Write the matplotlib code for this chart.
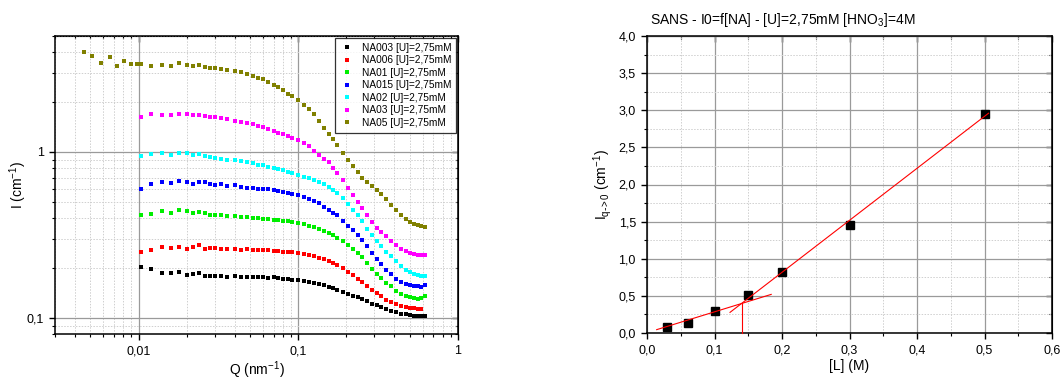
import numpy as np
import matplotlib
matplotlib.use("Agg")
import matplotlib.pyplot as plt
from matplotlib.ticker import FuncFormatter, LogLocator, MultipleLocator, NullFormatter

plt.rcParams['font.family'] = ['Liberation Sans', 'DejaVu Sans']

# ---------------- Left panel data ----------------
q = [0.0104, 0.012, 0.014, 0.016, 0.018, 0.020, 0.022, 0.024, 0.026, 0.028,
     0.030, 0.033, 0.036, 0.040, 0.044, 0.048, 0.052, 0.056, 0.060, 0.065,
     0.070, 0.075, 0.080, 0.086, 0.092, 0.100, 0.108, 0.116, 0.125, 0.135,
     0.145, 0.155, 0.165, 0.175, 0.19, 0.205, 0.22, 0.235, 0.25, 0.27,
     0.29, 0.31, 0.33, 0.355, 0.38, 0.41, 0.44, 0.47, 0.50, 0.53,
     0.56, 0.59, 0.62]

q_na05_low = [0.00455, 0.00514, 0.00585, 0.00659, 0.00732, 0.00809, 0.00891, 0.00982]
i_na05_low = [4.02, 3.80, 3.45, 3.72, 3.30, 3.55, 3.38, 3.39]

na003 = [0.204, 0.196, 0.186, 0.187, 0.19, 0.182, 0.183, 0.186, 0.18, 0.178,
         0.178, 0.179, 0.177, 0.178, 0.176, 0.176, 0.177, 0.176, 0.176, 0.175,
         0.176, 0.174, 0.172, 0.171, 0.17, 0.169, 0.167, 0.165, 0.163, 0.16,
         0.157, 0.154, 0.151, 0.148, 0.144, 0.14, 0.136, 0.133, 0.13, 0.126,
         0.122, 0.119, 0.116, 0.113, 0.11, 0.108, 0.106, 0.105, 0.104, 0.103,
         0.103, 0.102, 0.102]
na006 = [0.249, 0.258, 0.266, 0.265, 0.268, 0.262, 0.268, 0.276, 0.262, 0.264,
         0.263, 0.262, 0.26, 0.259, 0.258, 0.259, 0.258, 0.257, 0.256, 0.255,
         0.254, 0.252, 0.25, 0.249, 0.248, 0.245, 0.242, 0.238, 0.235, 0.23,
         0.225, 0.22, 0.214, 0.208, 0.199, 0.19, 0.181, 0.172, 0.165, 0.156,
         0.148, 0.141, 0.135, 0.129, 0.125, 0.121, 0.118, 0.116, 0.115, 0.114,
         0.113, 0.113, np.nan]
na01 = [0.42, 0.425, 0.44, 0.43, 0.445, 0.44, 0.43, 0.435, 0.43, 0.42,
        0.415, 0.42, 0.41, 0.41, 0.405, 0.405, 0.40, 0.40, 0.395, 0.395,
        0.39, 0.39, 0.385, 0.385, 0.38, 0.375, 0.37, 0.36, 0.355, 0.345,
        0.335, 0.325, 0.315, 0.305, 0.29, 0.275, 0.26, 0.245, 0.232, 0.215,
        0.198, 0.185, 0.174, 0.163, 0.155, 0.146, 0.14, 0.136, 0.133, 0.131,
        0.13, 0.131, 0.135]
na015 = [0.60, 0.64, 0.655, 0.65, 0.665, 0.66, 0.645, 0.66, 0.655, 0.64,
         0.635, 0.64, 0.625, 0.63, 0.615, 0.61, 0.605, 0.60, 0.595, 0.595,
         0.59, 0.58, 0.575, 0.565, 0.555, 0.55, 0.535, 0.52, 0.51, 0.49,
         0.465, 0.45, 0.43, 0.415, 0.385, 0.36, 0.34, 0.315, 0.295, 0.27,
         0.245, 0.225, 0.21, 0.195, 0.183, 0.172, 0.165, 0.16, 0.157, 0.155,
         0.155, 0.154, 0.157]
na02 = [0.95, 0.97, 0.99, 0.96, 0.98, 0.99, 0.96, 0.97, 0.94, 0.93,
        0.92, 0.91, 0.90, 0.89, 0.88, 0.87, 0.855, 0.84, 0.83, 0.81,
        0.80, 0.79, 0.78, 0.76, 0.745, 0.73, 0.71, 0.695, 0.68, 0.66,
        0.64, 0.615, 0.59, 0.565, 0.525, 0.485, 0.45, 0.415, 0.385, 0.345,
        0.315, 0.29, 0.27, 0.25, 0.235, 0.22, 0.205, 0.195, 0.188, 0.184,
        0.182, 0.180, 0.178]
na03 = [1.63, 1.69, 1.68, 1.66, 1.70, 1.69, 1.67, 1.68, 1.65, 1.63,
        1.62, 1.60, 1.58, 1.54, 1.52, 1.49, 1.47, 1.44, 1.42, 1.38,
        1.34, 1.31, 1.28, 1.25, 1.21, 1.18, 1.13, 1.08, 1.02, 0.96,
        0.91, 0.87, 0.80, 0.75, 0.68, 0.61, 0.55, 0.50, 0.46, 0.42,
        0.38, 0.35, 0.33, 0.31, 0.29, 0.275, 0.262, 0.252, 0.245, 0.242,
        0.240, 0.238, 0.24]
na05 = [3.38, 3.30, 3.35, 3.32, 3.42, 3.36, 3.30, 3.33, 3.25, 3.22,
        3.19, 3.17, 3.12, 3.08, 3.02, 2.95, 2.88, 2.80, 2.76, 2.64,
        2.53, 2.45, 2.35, 2.25, 2.16, 2.05, 1.93, 1.82, 1.70, 1.54,
        1.40, 1.29, 1.19, 1.10, 0.99, 0.90, 0.82, 0.755, 0.70, 0.655,
        0.62, 0.59, 0.56, 0.52, 0.48, 0.445, 0.415, 0.395, 0.38, 0.37,
        0.362, 0.357, 0.352]

series_labels = ["NA003 [U]=2,75mM", "NA006 [U]=2,75mM", "NA01 [U]=2,75mM",
                 "NA015 [U]=2,75mM", "NA02 [U]=2,75mM", "NA03 [U]=2,75mM",
                 "NA05 [U]=2,75mM"]
series_colors = ["#000000", "#FF0000", "#00EE00", "#0000FF", "#00FFFF",
                 "#FF00FF", "#808000"]

# ---------------- Right panel data ----------------
conc_L = [0.03, 0.06, 0.10, 0.15, 0.20, 0.30, 0.50]
i_q0 = [0.08, 0.14, 0.29, 0.51, 0.82, 1.46, 2.95]
fit1_x = [0.0143, 0.184]
fit1_y = [0.045, 0.52]
fit2_x = [0.123, 0.506]
fit2_y = [0.278, 2.96]
vline_x = [0.140, 0.140]
vline_y = [0.0, 0.40]

W, H = 1062, 383
fig = plt.figure(figsize=(W / 100, H / 100), dpi=100)

comma = FuncFormatter(lambda v, p: ("%g" % v).replace(".", ","))
comma1 = FuncFormatter(lambda v, p: ("%.1f" % v).replace(".", ","))

major_grid = dict(color="#9a9a9a", linewidth=0.9, linestyle="-")
minor_grid = dict(color="#cfcfcf", linewidth=0.7, linestyle=(0, (1.5, 1.5)))

def style_axes(ax):
    for s in ax.spines.values():
        s.set_linewidth(1.1)
    ax.tick_params(which="major", direction="out", length=4.5, width=1, labelsize=9,
                   top=False, right=False)
    ax.tick_params(which="minor", direction="out", length=2.5, width=0.8,
                   top=False, right=False)

# Left
ax1 = fig.add_axes([55 / W, 1 - 334 / H, 403 / W, 298 / H])
ax1.set_xscale("log")
ax1.set_yscale("log")
ax1.set_xlim(0.003, 1)
ax1.set_ylim(0.08, 5)
ax1.xaxis.set_major_locator(LogLocator(base=10, numticks=10))
ax1.yaxis.set_major_locator(LogLocator(base=10, numticks=10))
ax1.xaxis.set_minor_locator(LogLocator(base=10, subs=np.arange(2, 10), numticks=20))
ax1.yaxis.set_minor_locator(LogLocator(base=10, subs=np.arange(2, 10), numticks=20))
ax1.xaxis.set_major_formatter(comma)
ax1.yaxis.set_major_formatter(comma)
ax1.xaxis.set_minor_formatter(NullFormatter())
ax1.yaxis.set_minor_formatter(NullFormatter())
ax1.grid(True, which="major", **major_grid)
ax1.grid(True, which="minor", **minor_grid)
ax1.set_axisbelow(True)
style_axes(ax1)

all_series = [na003, na006, na01, na015, na02, na03, na05]
for i, (vals, lab, col) in enumerate(zip(all_series, series_labels, series_colors)):
    qq = list(q)
    vv = list(vals)
    if i == 6:
        qq = q_na05_low + qq
        vv = i_na05_low + vv
    ax1.plot(qq, vv, linestyle="none", marker="s", markersize=2.8,
             markeredgewidth=0, color=col, label=lab)

ax1.set_xlabel("Q (nm$^{\\mathregular{-1}}$)", fontsize=10, labelpad=2)
ax1.set_ylabel("I (cm$^{\\mathregular{-1}}$)", fontsize=10, labelpad=-2)
leg = ax1.legend(loc="upper right", fontsize=7.3, frameon=True, fancybox=False,
                 borderaxespad=0.15, handlelength=1.2, handletextpad=0.9,
                 labelspacing=0.25, markerscale=1.0, borderpad=0.5)
leg.get_frame().set_edgecolor("black")
leg.get_frame().set_linewidth(0.9)

# Right
ax2 = fig.add_axes([647 / W, 1 - 333 / H, 405 / W, 297 / H])
ax2.set_xlim(0, 0.6)
ax2.set_ylim(0, 4)
ax2.xaxis.set_major_locator(MultipleLocator(0.1))
ax2.xaxis.set_minor_locator(MultipleLocator(0.05))
ax2.yaxis.set_major_locator(MultipleLocator(0.5))
ax2.yaxis.set_minor_locator(MultipleLocator(0.25))
ax2.xaxis.set_major_formatter(comma1)
ax2.yaxis.set_major_formatter(comma1)
ax2.grid(True, which="major", **major_grid)
ax2.grid(True, which="minor", **minor_grid)
ax2.set_axisbelow(True)
style_axes(ax2)

ax2.plot(conc_L, i_q0, linestyle="none", marker="s", markersize=5.5,
         color="black", zorder=3)
ax2.plot(fit1_x, fit1_y, color="red", linewidth=0.8, zorder=4)
ax2.plot(fit2_x, fit2_y, color="red", linewidth=0.8, zorder=4)
ax2.plot(vline_x, vline_y, color="red", linewidth=0.8, zorder=4, clip_on=False)
ax2.set_xlabel("[L] (M)", fontsize=10, labelpad=2)
ax2.set_ylabel("I$_{\\mathregular{q\\text{-}\\!>0}}$ (cm$^{\\mathregular{-1}}$)",
               fontsize=10, labelpad=3)
fig.text(650 / W, 1 - 20 / H,
         "SANS - I0=f[NA] - [U]=2,75mM [HNO$_{\\mathregular{3}}$]=4M",
         fontsize=10, ha="left", va="center")

# inward ticks on top/right (mirror axes)
for ax in (ax1, ax2):
    tx = ax.secondary_xaxis("top")
    ty = ax.secondary_yaxis("right")
    for sec, axis in ((tx, tx.xaxis), (ty, ty.yaxis)):
        sec.tick_params(which="major", direction="in", length=4.5, width=1)
        sec.tick_params(which="minor", direction="in", length=2.5, width=0.8)
        axis.set_major_formatter(NullFormatter())
        axis.set_minor_formatter(NullFormatter())
    if ax is ax1:
        tx.xaxis.set_major_locator(LogLocator(base=10, numticks=10))
        tx.xaxis.set_minor_locator(LogLocator(base=10, subs=np.arange(2, 10), numticks=20))
        ty.yaxis.set_major_locator(LogLocator(base=10, numticks=10))
        ty.yaxis.set_minor_locator(LogLocator(base=10, subs=np.arange(2, 10), numticks=20))
    else:
        tx.xaxis.set_major_locator(MultipleLocator(0.1))
        tx.xaxis.set_minor_locator(MultipleLocator(0.05))
        ty.yaxis.set_major_locator(MultipleLocator(0.5))
        ty.yaxis.set_minor_locator(MultipleLocator(0.25))

fig.savefig("out.png", dpi=100)
